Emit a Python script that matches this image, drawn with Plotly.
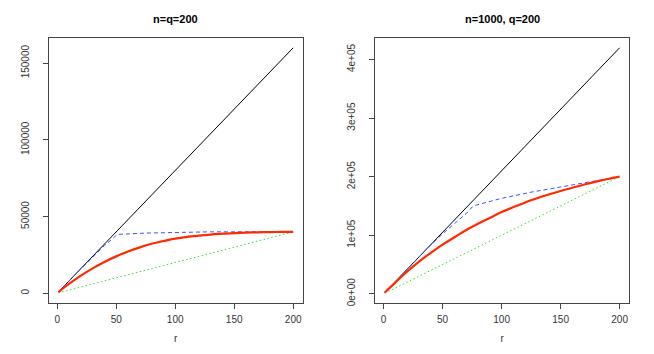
import plotly.graph_objects as go
from plotly.subplots import make_subplots

# data
r_ends = [1, 200]
black_left = [800, 160000]
green_left = [200, 40000]
black_right = [2100, 420000]
green_right = [1000, 200000]

r_red = [1, 10, 20, 30, 40, 50, 60, 70, 80, 90, 100, 110, 120, 130, 140, 150, 160, 170, 180, 190, 200]
red_left = [700, 6000, 11400, 16200, 20400, 24000, 27200, 29900, 32200, 34000, 35600,
            36700, 37500, 38200, 38800, 39200, 39500, 39700, 39850, 39950, 40000]
red_right = [2100, 19500, 38000, 55000, 70000, 84000, 96500, 109000, 119500, 129500, 139500,
             148000, 156000, 163000, 169500, 175500, 181000, 186500, 191500, 196000, 200000]

r_blue_left = [1, 10, 20, 30, 40, 51, 75, 100, 130, 200]
blue_left = [800, 8000, 16000, 23500, 31000, 38300, 39200, 39600, 40000, 40000]
r_blue_right = [1, 10, 20, 30, 40, 50, 60, 70, 76, 90, 100, 125, 150, 175, 200]
blue_right = [2100, 21000, 42000, 63000, 83500, 102500, 120000, 137000, 150000,
              158000, 163000, 173500, 182500, 192000, 200000]

titles = ["n=q=200", "n=1000, q=200"]
right_ticks = [0, 100000, 200000, 300000, 400000]
right_ticktext = ["0e+00", "1e+05", "2e+05", "3e+05", "4e+05"]

fig = make_subplots(rows=1, cols=2, horizontal_spacing=0.1256)

panels = [
    (black_left, green_left, red_left, r_blue_left, blue_left),
    (black_right, green_right, red_right, r_blue_right, blue_right),
]
for i, (blk, grn, red, rb, blu) in enumerate(panels, start=1):
    fig.add_trace(go.Scatter(x=r_ends, y=blk, mode="lines",
                             line=dict(color="black", width=1)), row=1, col=i)
    fig.add_trace(go.Scatter(x=r_ends, y=grn, mode="lines",
                             line=dict(color="#33dd33", width=1, dash="1.5px,2.5px")), row=1, col=i)
    fig.add_trace(go.Scatter(x=rb, y=blu, mode="lines",
                             line=dict(color="#3355ff", width=1, dash="4px,3px")), row=1, col=i)
    fig.add_trace(go.Scatter(x=r_red, y=red, mode="lines", line_shape="spline",
                             line=dict(color="#ff2a00", width=2.2)), row=1, col=i)

axis_style = dict(showline=True, mirror=True, linecolor="#444444", linewidth=1,
                  ticks="outside", ticklen=5, tickcolor="#444444", showgrid=False,
                  zeroline=False, tickfont=dict(size=10, color="#333333"))

for i in (1, 2):
    fig.update_xaxes(range=[-6.96, 207.96], tickvals=[0, 50, 100, 150, 200],
                     ticklabelstandoff=2,
                     title=dict(text="r", font=dict(size=10, color="#333333"), standoff=10),
                     row=1, col=i, **axis_style)

fig.update_yaxes(range=[-6400, 166400], tickvals=[0, 50000, 100000, 150000],
                 ticktext=["0", "50000", "100000", "150000"], tickangle=-90,
                 ticklabelstandoff=10, row=1, col=1, **axis_style)
fig.update_yaxes(range=[-15760, 436760], tickvals=right_ticks, ticktext=right_ticktext,
                 tickangle=-90, ticklabelstandoff=10, row=1, col=2, **axis_style)

# page body has an 8px margin, so the figure is a bit smaller
fig.update_layout(
    width=646, height=346,
    margin=dict(l=40, r=25, t=30, b=46),
    paper_bgcolor="white", plot_bgcolor="white",
    showlegend=False,
    font=dict(family="Liberation Sans", size=10, color="#333333"),
)

fig.layout.xaxis.domain = [0, 0.4372]
fig.layout.xaxis2.domain = [0.5628, 1]

# panel titles
for dom, t in zip([(0, 0.4372), (0.5628, 1)], titles):
    fig.add_annotation(text="<b>" + t + "</b>", x=(dom[0] + dom[1]) / 2, y=1.0,
                       xref="paper", yref="paper", xanchor="center", yanchor="middle",
                       yshift=19, showarrow=False, font=dict(size=11, color="black"))

fig.write_html("out.html")
